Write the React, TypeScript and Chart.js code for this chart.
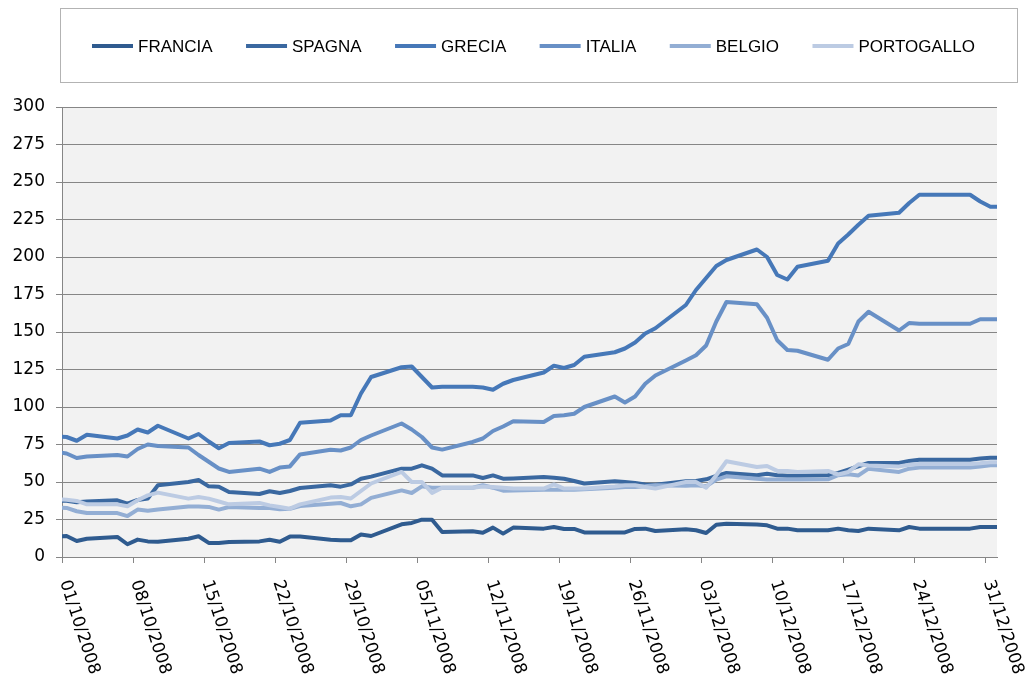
import React, { useEffect, useRef } from 'react';
import { Chart, registerables } from 'chart.js';

Chart.register(...registerables);

// ---- data ----
const pointDates = [
  '30/09/2008',
  '01/10/2008', '02/10/2008', '03/10/2008',
  '06/10/2008', '07/10/2008', '08/10/2008', '09/10/2008', '10/10/2008',
  '13/10/2008', '14/10/2008', '15/10/2008', '16/10/2008', '17/10/2008',
  '20/10/2008', '21/10/2008', '22/10/2008', '23/10/2008', '24/10/2008',
  '27/10/2008', '28/10/2008', '29/10/2008', '30/10/2008', '31/10/2008',
  '03/11/2008', '04/11/2008', '05/11/2008', '06/11/2008', '07/11/2008',
  '10/11/2008', '11/11/2008', '12/11/2008', '13/11/2008', '14/11/2008',
  '17/11/2008', '18/11/2008', '19/11/2008', '20/11/2008', '21/11/2008',
  '24/11/2008', '25/11/2008', '26/11/2008', '27/11/2008', '28/11/2008',
  '01/12/2008', '02/12/2008', '03/12/2008', '04/12/2008', '05/12/2008',
  '08/12/2008', '09/12/2008', '10/12/2008', '11/12/2008', '12/12/2008',
  '15/12/2008', '16/12/2008', '17/12/2008', '18/12/2008', '19/12/2008',
  '22/12/2008', '23/12/2008', '24/12/2008', '25/12/2008', '26/12/2008',
  '29/12/2008', '30/12/2008', '31/12/2008',
  '01/01/2009',
];

const FRANCIA = [13.5,
  14, 10.7, 12.2,
  13.4, 8.5, 11.6, 10.4, 10.2,
  12.2, 13.8, 9.4, 9.4, 10,
  10.4, 11.5, 10.2, 13.6, 13.6,
  11.5, 11.1, 11.1, 15, 14,
  21.8, 22.7, 24.9, 24.9, 16.7,
  17.2, 16.2, 19.6, 15.6, 19.6,
  18.9, 20, 18.7, 18.7, 16.4,
  16.4, 16.4, 18.7, 18.9, 17.3,
  18.5, 17.8, 16, 21.5, 22.2,
  21.6, 21.1, 18.9, 18.9, 17.8,
  17.8, 18.9, 17.8, 17.3, 18.9,
  17.8, 20, 18.9, 18.9, 18.9,
  18.9, 20, 20,
  20];

const SPAGNA = [37.5,
  37.5, 36.5, 37,
  37.8, 35.6, 38, 39, 47.8,
  50, 51.3, 47.1, 46.9, 43.3,
  42, 43.8, 42.7, 44, 46,
  47.8, 46.9, 48.4, 52.2, 53.6,
  58.9, 58.9, 61.1, 58.9, 54.4,
  54.4, 52.7, 54.4, 52.2, 52.4,
  53.3, 52.9, 52.2, 50.7, 49,
  50.5, 50, 49.3, 48.4, 48.2,
  50.5, 50.7, 51.8, 54, 56,
  54.5, 55.5, 54.5, 54.2, 54.2,
  54.5, 56, 58.2, 60.5, 62.7,
  62.7, 64, 64.9, 64.9, 64.9,
  64.9, 65.6, 66.2,
  66.2];

const GRECIA = [80.5,
  80, 77.5, 81.5,
  79, 81, 85, 83, 87.5,
  79, 82, 77, 72.5, 76,
  77, 74.5, 75.5, 78, 89.5,
  91, 94.5, 94.5, 109, 120,
  126.5, 127, 120, 113, 113.5,
  113.5, 113, 111.5, 115.5, 118,
  123, 127.5, 126, 128, 133.5,
  136.5, 139, 143, 149, 152.5,
  168, 178, 186, 194, 198,
  205, 200, 188, 185, 193.5,
  197.5, 209, 215, 221.5, 227.5,
  229.5, 236, 241.5, 241.5, 241.5,
  241.5, 237, 233.5,
  233.5];

const ITALIA = [70,
  69, 66, 67,
  68, 67, 72, 75, 74,
  73, 68, 63.5, 59, 56.7,
  58.9, 56.7, 59.6, 60.4, 68.4,
  71.5, 71, 73, 78, 81,
  89, 85, 80, 73, 71.6,
  76.7, 79, 84, 87, 90.5,
  90, 94, 94.5, 95.5, 100,
  107, 103, 107, 115.5, 121,
  131, 134.5, 141, 157, 170,
  168.5, 159.5, 144.5, 138, 137.5,
  131.5, 139, 142, 157, 163.5,
  151, 156, 155.5, 155.5, 155.5,
  155.5, 158.5, 158.5,
  158.5];

const BELGIO = [33,
  32.7, 30.5, 29.3,
  29.3, 27.3, 31.6, 30.8, 31.6,
  33.6, 33.6, 33.4, 31.6, 33.3,
  32.7, 32.7, 31.8, 32.2, 34,
  35.5, 36, 33.8, 35.1, 39.4,
  44.4, 42.7, 47.1, 46.2, 46.2,
  46.2, 47.8, 46.2, 44.2, 44.4,
  44.9, 44.9, 44.9, 44.9, 45.1,
  46.2, 46.7, 46.7, 47.1, 47.8,
  47.5, 47.8, 47.1, 51.6, 53.8,
  52.2, 51.6, 51.6, 51.6, 51.6,
  51.8, 54.5, 55.1, 54.4, 58.9,
  56.7, 58.9, 59.6, 59.6, 59.6,
  59.6, 60.4, 61.1,
  61.1];

const PORTOGALLO = [38.5,
  38.2, 37.4, 35.1,
  35.1, 33.8, 37.8, 41.1, 42.9,
  38.9, 40, 38.9, 37, 35.1,
  36, 34.4, 33.3, 32.2, 35.1,
  39.6, 40, 39, 44, 49,
  56.7, 50, 50, 42.7, 46.2,
  46.2, 47, 46.7, 46.2, 45.6,
  45.6, 48.4, 45.6, 45.6, 45.6,
  47, 47.8, 47.8, 46.7, 45.6,
  50, 50, 46.2, 54.5, 63.8,
  60, 60.7, 57.4, 57.4, 56.7,
  57.4, 55, 56.7, 61.8, 61,
  60.4, 61.5, 62, 62, 62,
  62, 62.5, 63.2,
  63.2];

const seriesNames = ['FRANCIA', 'SPAGNA', 'GRECIA', 'ITALIA', 'BELGIO', 'PORTOGALLO'];
const seriesValues = [FRANCIA, SPAGNA, GRECIA, ITALIA, BELGIO, PORTOGALLO];
const seriesColors = ['#2f5b8f', '#3a68a0', '#4678b8', '#6890c6', '#93aed4', '#bccbe3'];

const tickLabels = [
  '01/10/2008', '08/10/2008', '15/10/2008', '22/10/2008', '29/10/2008',
  '05/11/2008', '12/11/2008', '19/11/2008', '26/11/2008', '03/12/2008',
  '10/12/2008', '17/12/2008', '24/12/2008', '31/12/2008',
];

const Y_MIN = 0;
const Y_MAX = 300;
const Y_STEP = 25;

// ---- helpers ----
const ORIGIN = Date.UTC(2008, 9, 1);
function dayOffset(s: string): number {
  const [d, m, y] = s.split('/').map(Number);
  return (Date.UTC(y, m - 1, d) - ORIGIN) / 86400000;
}
const X_MAX = 92.1;
const DATA_SHIFT = 0.45; // points sit in the middle of their day slot
const GRID = '#868686';

const bgPlugin = {
  id: 'plotBg',
  beforeDraw(chart: any) {
    const { ctx, chartArea } = chart;
    ctx.save();
    ctx.fillStyle = '#f2f2f2';
    ctx.fillRect(chartArea.left, chartArea.top, chartArea.right - chartArea.left, chartArea.bottom - chartArea.top);
    ctx.restore();
  },
};

const xLabelPlugin = {
  id: 'xLabels',
  afterDraw(chart: any) {
    const xs = chart.scales.x;
    const ctx = chart.ctx;
    ctx.save();
    ctx.font = '17px "DejaVu Sans"';
    ctx.fillStyle = '#000';
    ctx.textAlign = 'left';
    ctx.textBaseline = 'alphabetic';
    tickLabels.forEach((lab) => {
      const px = xs.getPixelForValue(dayOffset(lab));
      ctx.save();
      ctx.translate(px - 2, chart.chartArea.bottom + 25);
      ctx.rotate((72 * Math.PI) / 180);
      ctx.fillText(lab, 0, 0);
      ctx.restore();
    });
    ctx.restore();
  },
};

const legendPlugin = {
  id: 'boxLegend',
  afterDraw(chart: any) {
    const ctx = chart.ctx;
    ctx.save();
    ctx.strokeStyle = '#b3b3b3';
    ctx.lineWidth = 1;
    ctx.strokeRect(60.5, 8.5, 957, 74);
    ctx.font = '17px "Liberation Sans", Arial, sans-serif';
    const ds = chart.data.datasets;
    const widths = ds.map((d: any) => ctx.measureText(d.label).width);
    const sampleLen = 41;
    const textGap = 5;
    const start = 92;
    const end = 975;
    const fixed = widths.reduce((a: number, w: number) => a + w + sampleLen + textGap, 0);
    const gap = (end - start - fixed) / (ds.length - 1);
    const cy = 46;
    let x = start;
    ds.forEach((d: any, i: number) => {
      ctx.strokeStyle = d.borderColor;
      ctx.lineWidth = 4;
      ctx.lineCap = 'butt';
      ctx.beginPath();
      ctx.moveTo(x, cy);
      ctx.lineTo(x + sampleLen, cy);
      ctx.stroke();
      ctx.fillStyle = '#000';
      ctx.textBaseline = 'middle';
      ctx.textAlign = 'left';
      ctx.fillText(d.label, x + sampleLen + textGap, cy + 1);
      x += sampleLen + textGap + widths[i] + gap;
    });
    ctx.restore();
  },
};

export default function App() {
  const ref = useRef<HTMLCanvasElement>(null);

  useEffect(() => {
    document.body.style.margin = '0';
    const days = pointDates.map(dayOffset);
    const datasets = seriesNames.map((name, si) => ({
      label: name,
      data: seriesValues[si].map((v, i) => ({ x: days[i] + DATA_SHIFT, y: v })),
      borderColor: seriesColors[si],
      backgroundColor: seriesColors[si],
      borderWidth: 4,
      pointRadius: 0,
      pointHoverRadius: 0,
      tension: 0,
      borderJoinStyle: 'round' as const,
      borderCapStyle: 'round' as const,
      clip: 0,
      order: seriesNames.length - si,
    }));

    const chart = new Chart(ref.current as HTMLCanvasElement, {
      type: 'line',
      data: { datasets },
      options: {
        animation: false,
        responsive: false,
        events: [],
        layout: { padding: { top: 107, right: 33, bottom: 0, left: 0 } },
        plugins: {
          legend: { display: false },
          tooltip: { enabled: false },
          title: { display: false },
        },
        scales: {
          x: {
            type: 'linear',
            min: 0,
            max: X_MAX,
            afterBuildTicks: (scale: any) => {
              scale.ticks = tickLabels.map((l) => ({ value: dayOffset(l) }));
            },
            afterFit: (scale: any) => {
              scale.height = 127;
            },
            ticks: { display: false },
            grid: {
              display: true,
              drawOnChartArea: false,
              drawTicks: true,
              tickLength: 6,
              color: GRID,
              lineWidth: 1,
            },
            border: { display: true, color: GRID, width: 1 },
          },
          y: {
            type: 'linear',
            min: Y_MIN,
            max: Y_MAX,
            afterFit: (scale: any) => {
              scale.width = 62;
            },
            ticks: {
              stepSize: Y_STEP,
              color: '#000',
              padding: 11,
              font: { family: '"DejaVu Sans"', size: 17 },
            },
            grid: {
              color: GRID,
              lineWidth: 1,
              drawTicks: true,
              tickLength: 6,
            },
            border: { display: true, color: GRID, width: 1 },
          },
        },
      },
      plugins: [bgPlugin, xLabelPlugin, legendPlugin],
    } as any);

    return () => chart.destroy();
  }, []);

  return (
    <div style={{ width: 1030, height: 684 }}>
      <canvas ref={ref} width={1030} height={684} style={{ display: 'block' }} />
    </div>
  );
}
